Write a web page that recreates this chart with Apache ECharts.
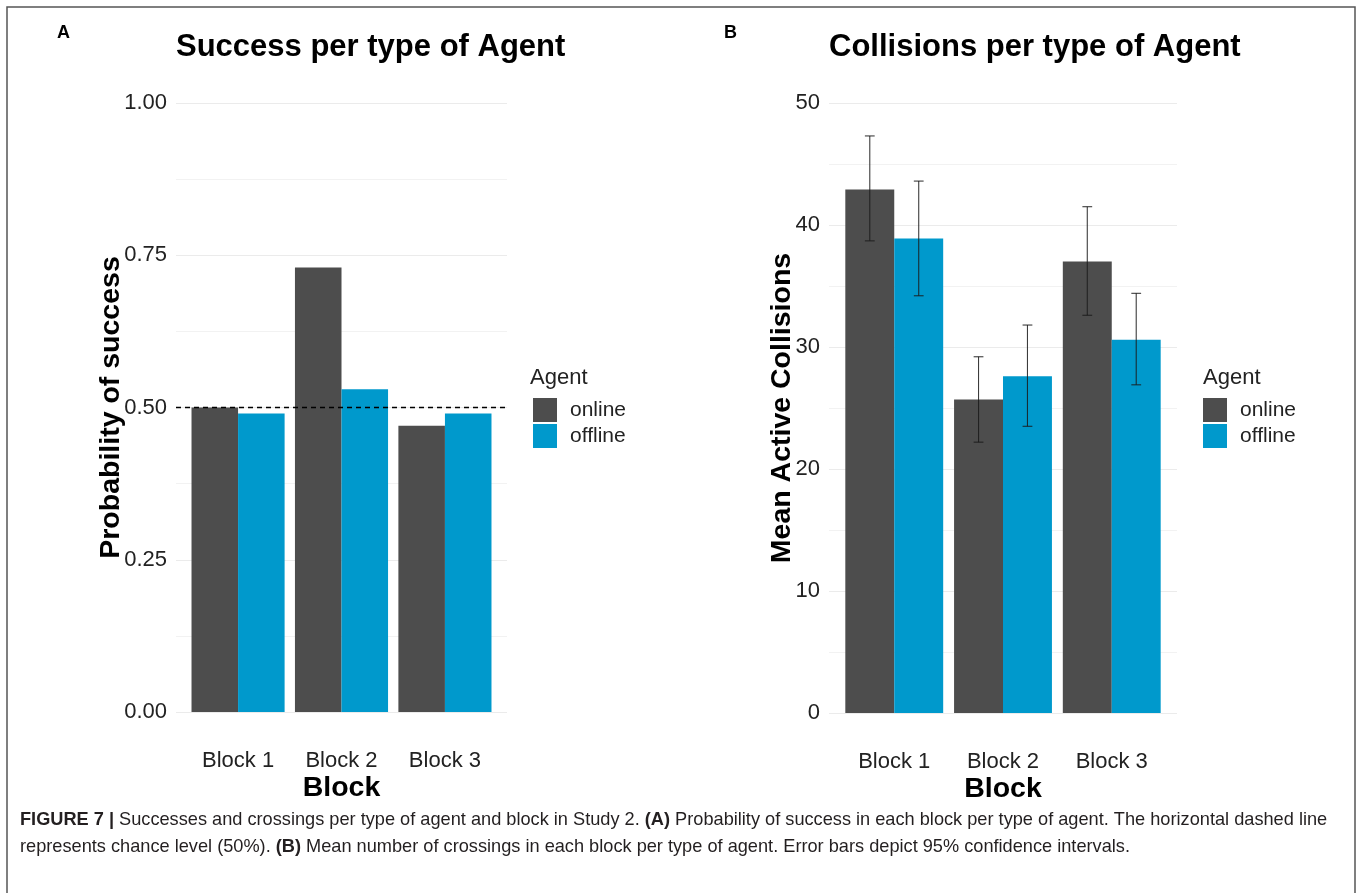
<!DOCTYPE html>
<html>
<head>
<meta charset="utf-8">
<script src="https://cdn.jsdelivr.net/npm/echarts@6/dist/echarts.min.js"></script>
<style>html,body{margin:0;padding:0;background:#fff}#chart{width:1360px;height:893px}</style>
</head>
<body>
<div id="chart"></div>
<script>
// ---------- data ----------
const blocks = ['Block 1', 'Block 2', 'Block 3'];
const agents = ['online', 'offline'];
// Panel A: probability of success
const successOnline = [0.50, 0.73, 0.47];
const successOffline = [0.49, 0.53, 0.49];
const chanceLevel = 0.5;
const ticksA = ['0.00', '0.25', '0.50', '0.75', '1.00'];
// Panel B: mean active collisions with 95% CI
const collOnline = [42.9, 25.7, 37.0];
const collOnlineLo = [38.7, 22.2, 32.6];
const collOnlineHi = [47.3, 29.2, 41.5];
const collOffline = [38.9, 27.6, 30.6];
const collOfflineLo = [34.2, 23.5, 26.9];
const collOfflineHi = [43.6, 31.8, 34.4];
const ticksB = ['0', '10', '20', '30', '40', '50'];

// ---------- style ----------
const FONT = 'Liberation Sans, Arial, Helvetica, sans-serif';
const COLORS = { online: '#4d4d4d', offline: '#0099cc' };
const HALF = 0.45;   // bar width (data units) per agent
const CAP = 0.045;   // error bar half cap width

function barRender(side) {
  return function (params, api) {
    const x = api.value(0), y = api.value(1);
    const x0 = side === 0 ? x - HALF : x;
    const x1 = side === 0 ? x : x + HALF;
    const p0 = api.coord([x0, y]);
    const p1 = api.coord([x1, 0]);
    return {
      type: 'rect',
      shape: { x: p0[0], y: p0[1], width: p1[0] - p0[0], height: p1[1] - p0[1] },
      style: { fill: api.visual('color') }
    };
  };
}
function errRender(side) {
  return function (params, api) {
    const x = api.value(0) + (side === 0 ? -HALF / 2 : HALF / 2);
    const lo = api.coord([x, api.value(1)]);
    const hi = api.coord([x, api.value(2)]);
    const cl = api.coord([x - CAP, api.value(1)])[0];
    const cr = api.coord([x + CAP, api.value(1)])[0];
    const st = { stroke: '#1a1a1a', lineWidth: 1.1, opacity: 0.85 };
    return {
      type: 'group',
      children: [
        { type: 'line', shape: { x1: lo[0], y1: lo[1], x2: hi[0], y2: hi[1] }, style: st },
        { type: 'line', shape: { x1: cl, y1: lo[1], x2: cr, y2: lo[1] }, style: st },
        { type: 'line', shape: { x1: cl, y1: hi[1], x2: cr, y2: hi[1] }, style: st }
      ]
    };
  };
}

function xAxisCfg(gridIndex) {
  return {
    type: 'value', gridIndex, min: 0.4, max: 3.6,
    axisLine: { show: false }, axisTick: { show: false }, splitLine: { show: false },
    axisLabel: {
      customValues: [1, 2, 3],
      formatter: v => blocks[Math.round(v) - 1],
      fontSize: 22, color: '#222', fontFamily: FONT, margin: 38
    },
    name: 'Block', nameLocation: 'middle', nameGap: 62, nameMoveOverlap: false,
    nameTextStyle: { fontSize: 28.5, fontWeight: 'bold', color: '#000', fontFamily: FONT }
  };
}
function yAxisCfg(gridIndex, max, interval, ticks, name, gap) {
  return {
    type: 'value', gridIndex, min: 0, max, interval,
    axisLine: { show: false }, axisTick: { show: false },
    axisLabel: {
      formatter: v => ticks[Math.round(v / interval)],
      fontSize: 22, color: '#222', fontFamily: FONT, margin: 9
    },
    splitLine: { show: true, lineStyle: { color: '#ebebeb', width: 1 } },
    minorTick: { show: false, splitNumber: 2 },
    minorSplitLine: { show: true, lineStyle: { color: '#f2f2f2', width: 1 } },
    name, nameLocation: 'middle', nameGap: gap, nameRotate: 90, nameMoveOverlap: false,
    nameTextStyle: { fontSize: 28.5, fontWeight: 'bold', color: '#000', fontFamily: FONT }
  };
}
function legendCfg(left) {
  return {
    left, top: 398, orient: 'vertical', itemWidth: 24, itemHeight: 24, itemGap: 2, padding: 0,
    data: agents.map(a => ({ name: a, icon: 'rect' })),
    textStyle: { fontSize: 21, color: '#222', fontFamily: FONT, padding: [2, 0, 0, 8] },
    selectedMode: false
  };
}

const option = {
  animation: false,
  backgroundColor: '#fff',
  title: [
    { text: 'Success per type of Agent', left: 176, top: 32, padding: 0,
      textStyle: { fontSize: 31, fontWeight: 'bold', color: '#000', fontFamily: FONT } },
    { text: 'Collisions per type of Agent', left: 829, top: 32, padding: 0,
      textStyle: { fontSize: 31, fontWeight: 'bold', color: '#000', fontFamily: FONT } }
  ],
  grid: [
    { left: 176, width: 331, top: 103, height: 609 },
    { left: 829, width: 348, top: 103, height: 610 }
  ],
  xAxis: [xAxisCfg(0), xAxisCfg(1)],
  yAxis: [
    yAxisCfg(0, 1, 0.25, ticksA, 'Probability of success', 50),
    yAxisCfg(1, 50, 10, ticksB, 'Mean Active Collisions', 32)
  ],
  legend: [legendCfg(533), legendCfg(1203)],
  series: [
    { type: 'custom', name: 'online', xAxisIndex: 0, yAxisIndex: 0, itemStyle: { color: COLORS.online },
      renderItem: barRender(0), data: successOnline.map((v, i) => [i + 1, v]) },
    { type: 'custom', name: 'offline', xAxisIndex: 0, yAxisIndex: 0, itemStyle: { color: COLORS.offline },
      renderItem: barRender(1), data: successOffline.map((v, i) => [i + 1, v]) },
    { type: 'line', name: 'chance', xAxisIndex: 0, yAxisIndex: 0, symbol: 'none', z: 5,
      lineStyle: { color: '#000', width: 1.3, type: [5, 4] },
      data: [[0.4, chanceLevel], [3.6, chanceLevel]] },
    { type: 'custom', name: 'online', xAxisIndex: 1, yAxisIndex: 1, itemStyle: { color: COLORS.online },
      renderItem: barRender(0), data: collOnline.map((v, i) => [i + 1, v]) },
    { type: 'custom', name: 'offline', xAxisIndex: 1, yAxisIndex: 1, itemStyle: { color: COLORS.offline },
      renderItem: barRender(1), data: collOffline.map((v, i) => [i + 1, v]) },
    { type: 'custom', name: 'ci online', xAxisIndex: 1, yAxisIndex: 1, z: 5,
      renderItem: errRender(0), data: collOnline.map((v, i) => [i + 1, collOnlineLo[i], collOnlineHi[i]]) },
    { type: 'custom', name: 'ci offline', xAxisIndex: 1, yAxisIndex: 1, z: 5,
      renderItem: errRender(1), data: collOffline.map((v, i) => [i + 1, collOfflineLo[i], collOfflineHi[i]]) }
  ],
  graphic: [
    { type: 'rect', shape: { x: 7, y: 7, width: 1348, height: 920 },
      style: { fill: 'none', stroke: '#555', lineWidth: 1.5 }, silent: true },
    { type: 'text', x: 57, y: 33, style: { text: 'A', font: 'bold 18px ' + FONT, fill: '#000', verticalAlign: 'middle' } },
    { type: 'text', x: 724, y: 33, style: { text: 'B', font: 'bold 18px ' + FONT, fill: '#000', verticalAlign: 'middle' } },
    { type: 'text', x: 530, y: 378, style: { text: 'Agent', font: '22px ' + FONT, fill: '#222', verticalAlign: 'middle' } },
    { type: 'text', x: 1203, y: 378, style: { text: 'Agent', font: '22px ' + FONT, fill: '#222', verticalAlign: 'middle' } },
    { type: 'text', x: 20, y: 820, style: {
        text: '{b|FIGURE 7 |} Successes and crossings per type of agent and block in Study 2. {b|(A)} Probability of success in each block per type of agent. The horizontal dashed line',
        font: '18.2px ' + FONT, fill: '#231f20', verticalAlign: 'middle',
        rich: { b: { font: 'bold 18.2px ' + FONT, fill: '#231f20' } } } },
    { type: 'text', x: 20, y: 847, style: {
        text: 'represents chance level (50%). {b|(B)} Mean number of crossings in each block per type of agent. Error bars depict 95% confidence intervals.',
        font: '18.2px ' + FONT, fill: '#231f20', verticalAlign: 'middle',
        rich: { b: { font: 'bold 18.2px ' + FONT, fill: '#231f20' } } } }
  ]
};

const chart = echarts.init(document.getElementById('chart'), null, { renderer: 'canvas' });
chart.setOption(option);
</script>
</body>
</html>
